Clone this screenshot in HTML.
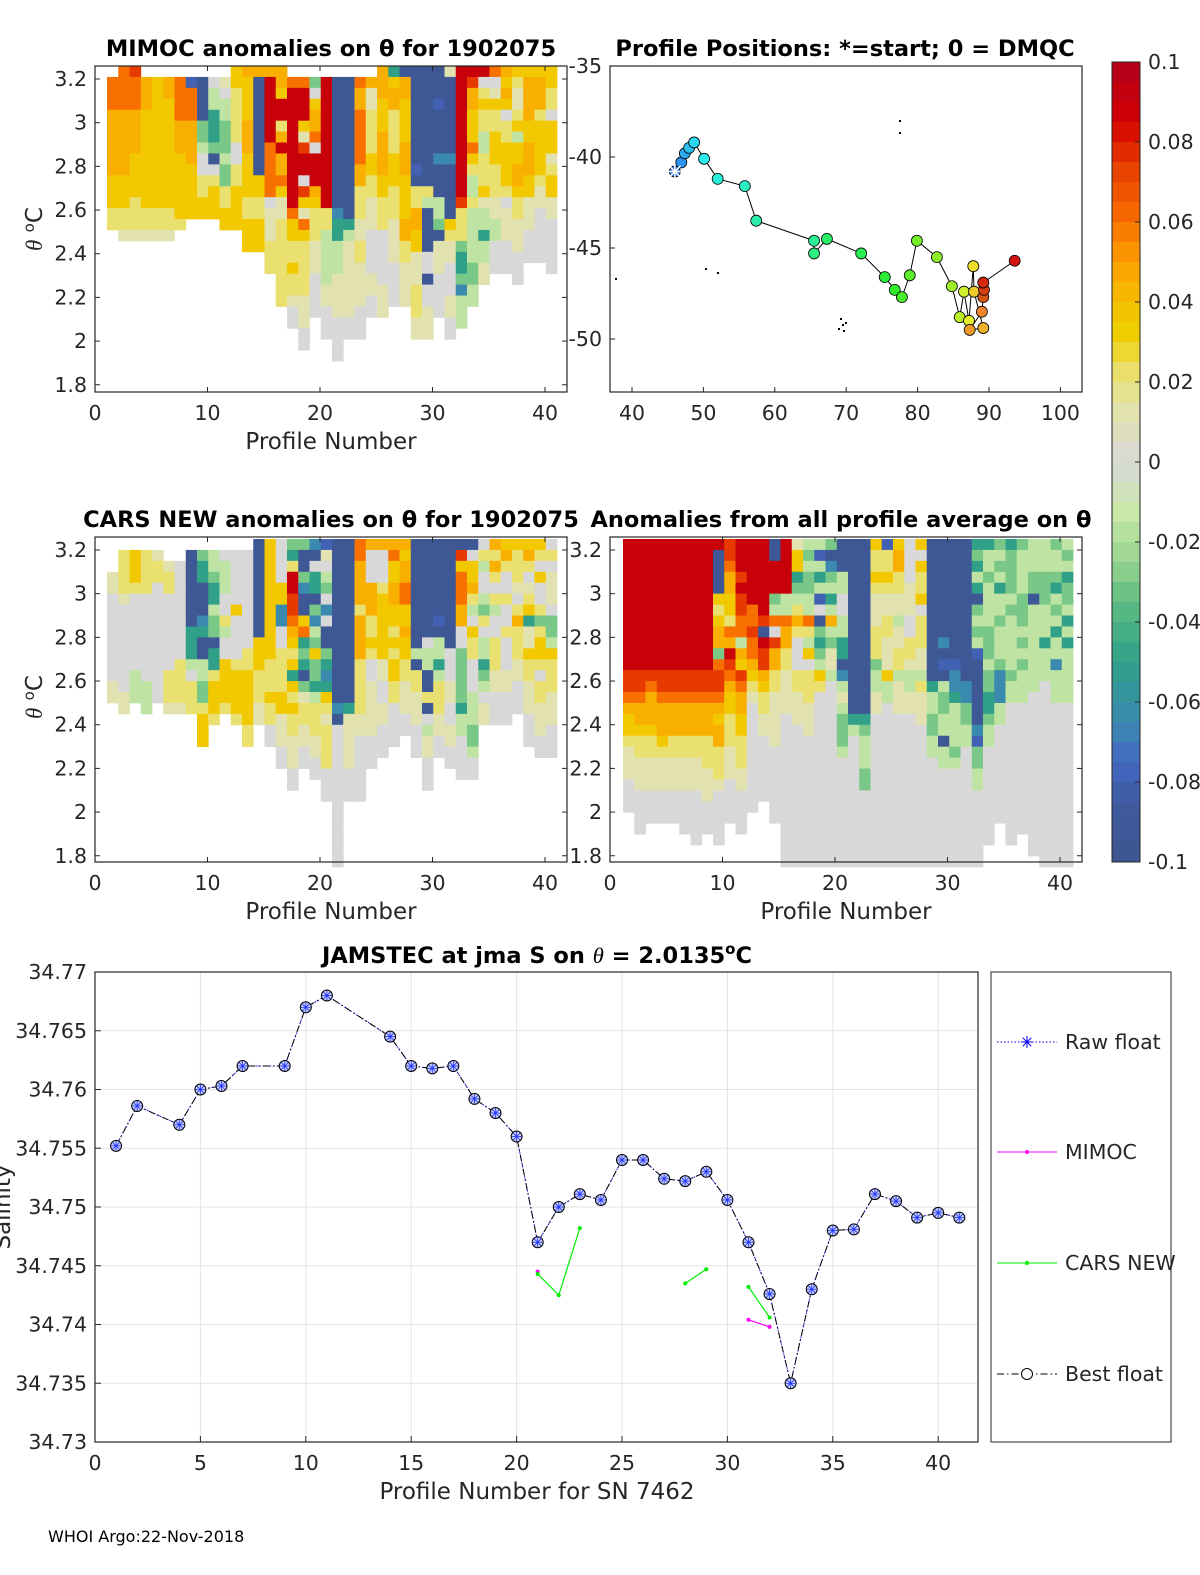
<!DOCTYPE html>
<html><head><meta charset="utf-8">
<style>
body{margin:0;background:#fff;}
svg{display:block;font-family:"DejaVu Sans","Liberation Sans",sans-serif;}
.tk{font-size:20.5px;fill:#262626;}
.ttl{font-size:22.5px;font-weight:bold;fill:#000;}
.lab{font-size:23px;fill:#262626;}
</style></head>
<body>
<svg id="fig" width="1200" height="1575" viewBox="0 0 1200 1575" xmlns="http://www.w3.org/2000/svg">
<g id="g"></g>
<text x="48" y="1542" font-size="16" fill="#000">WHOI Argo:22-Nov-2018</text>
</svg>
<script>
const codeLetters = ['R','r','O','o','Y','y','p','g','l','G','T','C','b','B'];
const codeValues  = [0.09,0.075,0.06,0.045,0.035,0.022,0.012,0,-0.015,-0.03,-0.05,-0.065,-0.08,-0.095];
const mimocCols = [".1O3o6Y3y2","O4o6Y3y2p1","r1O3o4Y4y3p1",".1o3Y9y2p1",".1Y12y2p1",".1o2Y10y2p1",".1O4o3Y6y1",".1b1O3o4Y5",".1B4G2l1g2y2Y2",".1g1l2T3G1B1g1y1Y3",
".1p1g1l2G3l1G2y2Y2","Y2y5g2y2Y4","o1Y4o3Y4y2Y3","o1B9Y2y2Y3","o1R6O5g1p3y3","o2Y1R2y1o1R1o2O1Y1p2y8",".1O1R11O1Y2y2Y1y2p1g2",".1O1R3Y1p1r1R2g1r1Y1p1O1Y1y5p3g2",".1G1g1Y1o2O1g1R3o1Y1y3p3g4",".1R12y2l5p2g3",
".1B12C1T2l3p4g4",".1B13T1l1p7g2",".1O1o2O5o2y3p2y2p4g3",".1o1p2y4Y2y2p3g4p2g2","o3Y3o4Y2y3g5p3","T1Y1o2y4Y3y3p4g4","B1o2Y4o3Y4o2y2p4","B9b1B1y2o2Y2p3y3p2","B11y1l1B4g2B1g2p3","B3b1B4C1B3l2G1B1p3g4",
"p1B7C1B5Y1y1p2g3p2g2","R12r1y3G1T2G1C1l3","R1r1o2Y3O1Y1y1l2y1l5G2l2","R1g1y1Y1y2l2y3Y1p1l2T1l2p2","O1g1p1Y1y2Y3y3p2l2g3","o1Y1o1Y1g1y2Y4y1g1p3g3","Y1y1p2y1Y1l1Y2o2Y1y2p3g3","Y1o4Y2o3Y2p3g3","Y1o3y1Y5y1p2g5","Y2y2g1Y3p1y1Y2p2g5"];
const carsCols = [".3p2g8p2",".1y4p1g8p2",".1Y3y1g7l3",".1y4g8l3",".1p1y2g11",".2p1y2g7y3p1",".2g9y4p1",".1B7T3l1g1y3",".1G1T2B3C1T1B2l2G2y1Y3",".1l2G1T2l1G2B1T2y1Y3y1",
".1g1l3g2y1l1g2Y4y1",".1g5Y1g4y1Y4y1",".1g9y2Y5y2","B9Y3y3p2","Y11y3Y1y2g2","g4Y2C2g2y4Y2p3g2","G1T1y1R2r2O1o1Y1y1Y1T1Y1y1Y1y2p3g2","G1B2G1C1B2Y1O1T1G1T1B1G1p1y2p2g2","C1B1g1T2B1G1C1l1G1Y1G2T1l1y3p2g2","b1p1g1l1G1g1C1g1B2G1T1C1T1Y1y1p1y4g3",
"B15C1B1g13","B15T1p5g3","O2o4y1o4y5p2g6","o1g3o3y2Y1y1g2p5g3","o1g3y1Y6p2g2p2g3","o1O1Y2o2Y2y1Y1y1Y2y2g4","o1Y1o2O2Y2o1Y2y2p3g2","B10l1B1y2p3g3","B9g1l2B2y1B1g1l1p2g3","B7b1B1l2T1l1y3p2g2",
"B10g3p2g2p2g2","B1r1Y1O3o2g2G5T1l2g4","B1g1Y2o1y1l1g1Y1y2g3l3G2l1g2","g1y1l1g2l1G1y1g1l2T1G1l1g1p2","o1y1o1y1g1y1l1g2y3p2g3","Y1o1y1g2y1g2y1g3p2g3","Y1y3p1g1y1o1y3p2g3","Y1o1y1g1p1y1Y1T1p2Y1y2p3g3","Y1y1g1Y1g2y1G1y1Y2y1g1y2p3g2","g1y1g1p3g1G2l1Y1y3p3g3"];
const allAvgCols = ["R12r2O1o1Y2y1p3g3","R12r2O1o2Y1y2p3g4","R12r1O1o3Y1y2p3g3","R12r2O1o3Y1y1p3g3","R12r2O1o3y2p3g3","R12r2O1o3y2p3g4","R12r2O1o3y2p3g5","R12r2O1o3y3p3g3","R1B4Y1y1Y1o2G1O1r2O1o1Y1o2y3p1g5","r2O1o2Y2y1O1o1R1r1O1o1Y2y3p3g4",
"R3r1R1r2O2l1o1Y1r1O1o2Y2y3p2g4","R6O2r1O2o1Y1y1p1g10","R7r1B1R1r2o1Y1y2p2g6","B2R3G1l1O1g1r1o2y2p5g7","R5l2O1o2y2p4g14","p1Y2T1G1l1y1o1y1g3y2p3g13","l1G1l1G2l2O1y1l1Y1g1y3p3g12","l1b1l1T1l1b1g1B1G1T1G1l1Y1y1g16","G1B1C1G1l1T1l1o1l1G1p2l1g17","B3l2g2l2T2B1C1l1p1l1G3l1g10",
"B16T1l1g12","B16T1G1l3G2g7","Y1y1y1Y1y1p3y3G1l2p2g14","b1y2Y1y1p2y2p3Y1l2g15","Y1o2y2p2l1p2y2l1p3g14","g4p3g2y2p1l2p2g14","Y1g1Y1y2Y1g1y3p2l1y1p3g13","B13T1l2G2l2g10","B9C1B1b1B1l1G2l2B1l2g9","B11b1C2T1l4G1l1g9",
"B13C2G2l2g11","T1G1T1l1T1B1G1l1G1l1b1B6C1b1G2l2g7","T1l2G1l4G3l1G2T2G1l2g9","G1l1G1l1T1l2G1l3G1C3l2g9","T1G4l1G1l5G1l2g13","G1l4G3l1G1l1G1l3g12","l3G2B1l8g15","l3G3l3T1l3g17","G1l2G1T1l1G1l1T1l2C1l3g15","l1G1l1T1G2l1T1l1T1l5g15"];
const bestX = [1,2,4,5,6,7,9,10,11,14,15,16,17,18,19,20,21,22,23,24,25,26,27,28,29,30,31,32,33,34,35,36,37,38,39,40,41];
const bestS = [34.7552,34.7586,34.7570,34.7600,34.7603,34.7620,34.7620,34.7670,34.7680,34.7645,34.7620,34.7618,34.7620,34.7592,34.7580,34.7560,34.7470,34.7500,34.7511,34.7506,34.7540,34.7540,34.7524,34.7522,34.7530,34.7506,34.7470,34.7426,34.7350,34.7430,34.7480,34.7481,34.7511,34.7505,34.7491,34.7495,34.7491];
const mimocSegs = [[[21,34.7445]],[[31,34.7404],[32,34.7398]]];
const carsSegs = [[[21,34.7443],[22,34.7425],[23,34.7482]],[[28,34.7435],[29,34.7447]],[[31,34.7432],[32,34.7406]]];
const posLon = [46.0,46.9,47.4,48.0,48.7,50.1,52.0,55.8,57.4,65.5,65.5,67.3,72.1,75.4,76.8,77.8,78.9,79.9,82.7,84.8,85.9,86.5,87.2,87.8,87.9,89.2,87.3,89.0,89.2,89.3,89.2,93.6];
const posLat = [-40.8,-40.3,-39.8,-39.5,-39.2,-40.1,-41.2,-41.6,-43.5,-44.6,-45.3,-44.5,-45.3,-46.6,-47.3,-47.7,-46.5,-44.6,-45.5,-47.1,-48.8,-47.4,-49.0,-46.0,-47.4,-49.4,-49.5,-48.5,-47.7,-47.3,-46.9,-45.7];
const thetaTicks = [1.8,2,2.2,2.4,2.6,2.8,3,3.2];
const profTicks = [0,10,20,30,40];
const lonTicks = [40,50,60,70,80,90,100];
const latTicks = [-35,-40,-45,-50];
const cbTicks = [0.1,0.08,0.06,0.04,0.02,0,-0.02,-0.04,-0.06,-0.08,-0.1];
const salTicks = [34.73,34.735,34.74,34.745,34.75,34.755,34.76,34.765,34.77];
const salXTicks = [0,5,10,15,20,25,30,35,40];

const NS='http://www.w3.org/2000/svg';
const root=document.getElementById('g');
function mk(tag,at,parent){const e=document.createElementNS(NS,tag);for(const k in at)e.setAttribute(k,at[k]);(parent||root).appendChild(e);return e;}
function txt(s,x,y,cls,anchor,parent){const t=mk('text',{x:x,y:y,'class':cls,'text-anchor':anchor||'middle'},parent);t.textContent=s;return t;}
const stops=[[-0.1,'#3d5690'],[-0.085,'#3f5aa0'],[-0.075,'#4468c4'],[-0.065,'#3a8ab0'],[-0.05,'#30a088'],[-0.035,'#5cbc80'],[-0.025,'#98d490'],[-0.012,'#cbe8a8'],[0,'#d8d8d8'],[0.012,'#e2e2b0'],[0.022,'#eae070'],[0.032,'#f0d000'],[0.04,'#f5be00'],[0.05,'#fca000'],[0.062,'#f76800'],[0.075,'#e63a00'],[0.085,'#d40000'],[0.1,'#b0001c']];
function hx(h){return [1,3,5].map(i=>parseInt(h.substr(i,2),16));}
function cmap(v){v=Math.max(-0.1,Math.min(0.1,v));for(let i=0;i<stops.length-1;i++){const a=stops[i],b=stops[i+1];if(v<=b[0]){const t=(v-a[0])/(b[0]-a[0]);const ca=hx(a[1]),cb=hx(b[1]);return 'rgb('+ca.map((c,j)=>Math.round(c+(cb[j]-c)*t)).join(',')+')';}}return stops[stops.length-1][1];}
function jet(t){const h=215-215*t;return 'hsl('+h+',85%,'+(t>0.9?45:55)+'%)';}
function decode(s){const out=[];s.replace(/([.A-Za-z])(\d+)/g,(m,c,n)=>{for(let i=0;i<+n;i++)out.push(c);return m;});return out.slice(0,30);}

function heatPanel(name,cols,bx,by,bw,bh,cellX0,cellY0,thetaY0,title,titleX,showXlab){
  const G=mk('g',{});
  
  
  const cw=11.25, rh=10.93, ppu=218.4;
  cols.forEach((s,c)=>{decode(s).forEach((code,r)=>{if(code==='.')return;
    const v=codeValues[codeLetters.indexOf(code)];
    const cell=mk('rect',{x:cellX0+c*cw,y:cellY0+r*rh,width:cw+0.4,height:rh+0.4,fill:cmap(v)},G);
    
    
  });});
  const box=mk('rect',{x:bx,y:by,width:bw,height:bh,fill:'none',stroke:'#262626','stroke-width':1.2},G);
  
  
  thetaTicks.forEach(v=>{const y=thetaY0+(3.2-v)*ppu;
    mk('line',{x1:bx,x2:bx+5,y1:y,y2:y,stroke:'#262626'},G);mk('line',{x1:bx+bw,x2:bx+bw-5,y1:y,y2:y,stroke:'#262626'},G);
    const t=txt(String(v),bx-8,y+7,'tk','end',G);
    
    
  });
  profTicks.forEach(v=>{const x=bx+v*11.25;
    mk('line',{x1:x,x2:x,y1:by+bh,y2:by+bh-5,stroke:'#262626'},G);mk('line',{x1:x,x2:x,y1:by,y2:by+5,stroke:'#262626'},G);
    const t=txt(String(v),x,by+bh+28,'tk','middle',G);
    
    
  });
  const tt=txt(title,titleX,by-10,'ttl','middle',G);
  
  
  if(showXlab){const xl=txt('Profile Number',bx+bw/2,by+bh+57,'lab','middle',G);
    
    }
  return G;
}
function thetaTitle(g,x,y){const t=mk('text',{x:x,y:y,'class':'lab','text-anchor':'middle',transform:'rotate(-90 '+x+' '+y+')'},g);
  t.innerHTML='<tspan font-style="italic" font-family="Liberation Serif,serif">θ</tspan> <tspan font-size="15" dy="-8">o</tspan><tspan dy="8">C</tspan>';
  
  }

const p1=heatPanel('mimoc-heatmap',mimocCols,95,66,472,326,107,66,79,'MIMOC anomalies on θ  for 1902075',331,true);
thetaTitle(p1,42,229);
const p3=heatPanel('cars-heatmap',carsCols,95,537,472,325,107,539,550,'CARS NEW anomalies on θ for 1902075',331,true);
thetaTitle(p3,42,697);
const p4=heatPanel('all-average-heatmap',allAvgCols,610,537,472,325,623,539,550,'Anomalies from all profile average on θ',841,true);

(function(){
  const G=mk('g',{});
  
  
  const bx=610,by=66,bw=472,bh=326;
  const X=l=>632+(l-40)*7.14, Y=l=>66+(-35-l)*18.2;
  const box=mk('rect',{x:bx,y:by,width:bw,height:bh,fill:'none',stroke:'#262626','stroke-width':1.2},G);
  
  
  lonTicks.forEach(v=>{const x=X(v);mk('line',{x1:x,x2:x,y1:by+bh,y2:by+bh-5,stroke:'#262626'},G);
    const t=txt(String(v),x,by+bh+28,'tk','middle',G);
    
    });
  latTicks.forEach(v=>{const y=Y(v);mk('line',{x1:bx,x2:bx+5,y1:y,y2:y,stroke:'#262626'},G);
    const t=txt(String(v),bx-8,y+7,'tk','end',G);
    
    });
  [[840,318],[842,324],[838,328],[845,322],[843,330],[899,120],[899,132],[615,278],[705,268],[717,272]].forEach(p=>{mk('rect',{x:p[0],y:p[1],width:2,height:2,fill:'#000'},G);});
  let d='';posLon.forEach((l,i)=>{d+=(i?'L':'M')+X(l)+' '+Y(posLat[i]);});
  const ln=mk('path',{d:d,fill:'none',stroke:'#000','stroke-width':1},G);
  
  
  posLon.forEach((l,i)=>{const t=i/(posLon.length-1);
    const c=mk('circle',{cx:X(l),cy:Y(posLat[i]),r:5.5,fill:jet(t),stroke:'#000','stroke-width':0.8},G);
    
    });
  const sx=X(posLon[0]),sy=Y(posLat[0]);
  for(let a=0;a<4;a++){const an=a*Math.PI/4;mk('line',{x1:sx-8*Math.cos(an),y1:sy-8*Math.sin(an),x2:sx+8*Math.cos(an),y2:sy+8*Math.sin(an),stroke:'#fff','stroke-width':1.5},G);}
  const tt=txt('Profile Positions: *=start; 0 = DMQC',845,56,'ttl','middle',G);
  
  
})();

(function(){
  const G=mk('g',{});
  
  
  const x0=1112,y0=62,h=800,w=28,n=40;
  for(let i=0;i<n;i++){const v=0.1-(i+0.5)*0.2/n;mk('rect',{x:x0,y:y0+i*h/n,width:w,height:h/n+0.5,fill:cmap(v)},G);}
  mk('rect',{x:x0,y:y0,width:w,height:h,fill:'none',stroke:'#262626'},G);
  cbTicks.forEach(v=>{const y=y0+(0.1-v)/0.2*h;mk('line',{x1:x0+w,x2:x0+w-5,y1:y,y2:y,stroke:'#262626'},G);
    const t=txt(String(v),x0+w+8,y+7,'tk','start',G);
    
    });
})();

(function(){
  const G=mk('g',{});
  
  
  const bx=95,by=972,bw=883,bh=470;
  const X=v=>bx+v*21.08, Y=v=>by+(34.77-v)*11750;
  salXTicks.forEach(v=>{const x=X(v);mk('line',{x1:x,x2:x,y1:by,y2:by+bh,stroke:'#e3e3e3'},G);
    mk('line',{x1:x,x2:x,y1:by+bh,y2:by+bh-6,stroke:'#262626'},G);
    const t=txt(String(v),x,by+bh+28,'tk','middle',G);
    
    });
  salTicks.forEach(v=>{const y=Y(v);mk('line',{x1:bx,x2:bx+bw,y1:y,y2:y,stroke:'#e3e3e3'},G);
    mk('line',{x1:bx,x2:bx+6,y1:y,y2:y,stroke:'#262626'},G);
    const t=txt(String(+v.toFixed(3)),bx-8,y+7,'tk','end',G);
    
    });
  const box=mk('rect',{x:bx,y:by,width:bw,height:bh,fill:'none',stroke:'#262626','stroke-width':1.2},G);
  
  
  function seg(pts,col,name){let d='';pts.forEach((p,i)=>{d+=(i?'L':'M')+X(p[0])+' '+Y(p[1]);});
    const l=mk('path',{d:d,fill:'none',stroke:col,'stroke-width':1.2},G);
    
    
    pts.forEach(p=>{mk('circle',{cx:X(p[0]),cy:Y(p[1]),r:2,fill:col},G);});}
  mimocSegs.forEach(s=>seg(s,'#ff00ff','mimoc-line'));
  carsSegs.forEach(s=>seg(s,'#00ee00','cars-line'));
  let d='';bestX.forEach((x,i)=>{d+=(i?'L':'M')+X(x)+' '+Y(bestS[i]);});
  const raw=mk('path',{d:d,fill:'none',stroke:'#0000ff','stroke-width':1,'stroke-dasharray':'1.5 2'},G);
  
  
  const best=mk('path',{d:d,fill:'none',stroke:'#000','stroke-width':1,'stroke-dasharray':'7 3 1.5 3'},G);
  
  
  bestX.forEach((x,i)=>{const cx=X(x),cy=Y(bestS[i]);
    const c=mk('circle',{cx:cx,cy:cy,r:5.5,fill:'#c4cdf0',stroke:'#000','stroke-width':1},G);
    
    
    for(let a=0;a<4;a++){const an=a*Math.PI/4;mk('line',{x1:cx-5*Math.cos(an),y1:cy-5*Math.sin(an),x2:cx+5*Math.cos(an),y2:cy+5*Math.sin(an),stroke:'#2030ff','stroke-width':0.8},G);}
  });
  const tt=mk('text',{x:537,y:963,'class':'ttl','text-anchor':'middle'},G);
  tt.innerHTML='JAMSTEC at jma S on <tspan font-style="italic" font-weight="normal" font-family="Liberation Serif,serif">θ</tspan> = 2.0135<tspan font-size="15" dy="-9">o</tspan><tspan dy="9">C</tspan>';
  
  
  const xl=txt('Profile Number for SN 7462',537,1499,'lab','middle',G);
  
  
  const yl=mk('text',{x:10,y:1207,'class':'lab','text-anchor':'middle',transform:'rotate(-90 10 1207)'},G);
  yl.textContent='Salinity';
  
  
  const L=mk('g',{},G);
  
  
  mk('rect',{x:991,y:972,width:180,height:470,fill:'#fff',stroke:'#262626'},L);
  const ents=[['Raw float',1042,'#0000ff','1.5 2'],['MIMOC',1152,'#ff00ff',''],['CARS NEW',1263,'#00ee00',''],['Best float',1374,'#000','7 3 1.5 3']];
  ents.forEach((e,i)=>{const ge=mk('g',{},L);
    
    
    mk('line',{x1:997,x2:1057,y1:e[1],y2:e[1],stroke:e[2],'stroke-width':1,'stroke-dasharray':e[3]},ge);
    if(i===0){for(let a=0;a<4;a++){const an=a*Math.PI/4;mk('line',{x1:1027-6*Math.cos(an),y1:e[1]-6*Math.sin(an),x2:1027+6*Math.cos(an),y2:e[1]+6*Math.sin(an),stroke:'#0000ff'},ge);}}
    else if(i===3){mk('circle',{cx:1027,cy:e[1],r:5.5,fill:'#fff',stroke:'#000'},ge);}
    else mk('circle',{cx:1027,cy:e[1],r:2,fill:e[2]},ge);
    txt(e[0],1065,e[1]+7,'tk','start',ge);
  });
})();
</script>
</body></html>
